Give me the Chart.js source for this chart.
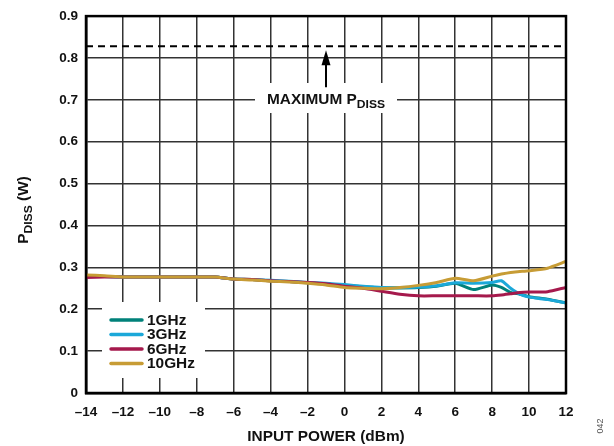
<!DOCTYPE html>
<html>
<head>
<meta charset="utf-8">
<script src="https://cdn.jsdelivr.net/npm/chart.js@4/dist/chart.umd.min.js"></script>
<style>
  html, body { margin: 0; padding: 0; background: #fff; }
  #grafica { display: block; }
</style>
</head>
<body>
<canvas id="grafica" width="614" height="446"></canvas>
<script>
// datos
const power = [-14, -13, -12, -11, -10, -9, -8, -7, -6, -5, -4, -3, -2, -1, 0, 1, 2, 3, 4, 5, 6, 7, 8, 8.5, 9, 9.5, 10, 11, 12];
const p1GHz = [0.279, 0.278, 0.277, 0.277, 0.277, 0.277, 0.277, 0.277, 0.272, 0.271, 0.268, 0.266, 0.263, 0.260, 0.257, 0.254, 0.251, 0.251, 0.252, 0.255, 0.262, 0.247, 0.258, 0.252, 0.240, 0.236, 0.230, 0.224, 0.215];
const p3GHz = [0.279, 0.278, 0.277, 0.277, 0.277, 0.277, 0.277, 0.277, 0.272, 0.271, 0.269, 0.267, 0.264, 0.262, 0.259, 0.255, 0.252, 0.252, 0.253, 0.256, 0.263, 0.262, 0.264, 0.268, 0.250, 0.236, 0.229, 0.223, 0.215];
const p6GHz = [0.276, 0.277, 0.277, 0.277, 0.277, 0.277, 0.277, 0.277, 0.272, 0.271, 0.268, 0.266, 0.264, 0.261, 0.255, 0.250, 0.243, 0.236, 0.232, 0.232, 0.232, 0.232, 0.232, 0.234, 0.237, 0.240, 0.241, 0.242, 0.252];
const p10GHz = [0.282, 0.280, 0.277, 0.277, 0.277, 0.277, 0.277, 0.277, 0.272, 0.270, 0.267, 0.265, 0.262, 0.258, 0.252, 0.250, 0.249, 0.252, 0.257, 0.264, 0.274, 0.268, 0.279, 0.284, 0.288, 0.290, 0.292, 0.298, 0.314];
const seriesNames = ['1GHz', '3GHz', '6GHz', '10GHz'];
const maxPdiss = 0.828;
const arrowPower = -1;
const xTicks = [-14, -12, -10, -8, -6, -4, -2, 0, 2, 4, 6, 8, 10, 12];
const yTicks = [0, 0.1, 0.2, 0.3, 0.4, 0.5, 0.6, 0.7, 0.8, 0.9];

const FUENTE = '"Liberation Sans", Arial, sans-serif';
const colores = ['#00817a', '#1ba8d9', '#a5194c', '#c79c35'];
const ESTIRA = 1.1; // el texto del original es algo mas ancho

const puntos = (ys) => power.map((p, i) => ({ x: p, y: ys[i] }));

// texto con subindice y estirado en horizontal, devuelve el ancho
function textoSub(ctx, partes, x, y, medir) {
  let ancho = 0;
  partes.forEach(([txt, sub]) => {
    ctx.font = sub ? 'bold 11px ' + FUENTE : 'bold 14px ' + FUENTE;
    if (!medir) {
      ctx.save();
      ctx.translate(x + ancho, sub ? y + 4 : y);
      ctx.scale(ESTIRA, 1);
      ctx.fillText(txt, 0, 0);
      ctx.restore();
    }
    ancho += ctx.measureText(txt).width * ESTIRA;
  });
  return ancho;
}

const extras = {
  id: 'extras',
  beforeDatasetsDraw(chart) {
    const { ctx } = chart;
    ctx.save();
    ctx.fillStyle = '#fff';
    // caja de la leyenda
    ctx.fillRect(102, 302, 103, 76);
    // caja de la etiqueta del maximo
    ctx.fillRect(255, 83, 142, 30);
    ctx.restore();
  },
  afterDatasetsDraw(chart) {
    const { ctx, chartArea: a, scales: { x, y } } = chart;
    ctx.save();
    // marco
    ctx.strokeStyle = '#000';
    ctx.lineWidth = 2.5;
    ctx.strokeRect(a.left, a.top, a.right - a.left, a.bottom - a.top);

    // flecha
    const ax = x.getPixelForValue(arrowPower);
    const ay = y.getPixelForValue(maxPdiss);
    ctx.fillStyle = '#000';
    ctx.lineWidth = 2;
    ctx.beginPath();
    ctx.moveTo(ax, ay + 16);
    ctx.lineTo(ax, ay + 41);
    ctx.stroke();
    ctx.beginPath();
    ctx.moveTo(ax, ay + 4);
    ctx.lineTo(ax - 4.5, ay + 19);
    ctx.lineTo(ax + 4.5, ay + 19);
    ctx.closePath();
    ctx.fill();

    // etiqueta MAXIMUM PDISS
    ctx.fillStyle = '#111';
    ctx.textBaseline = 'alphabetic';
    ctx.textAlign = 'left';
    const partes = [['MAXIMUM P', false], ['DISS', true]];
    const w = textoSub(ctx, partes, 0, 0, true);
    textoSub(ctx, partes, ax - w / 2, 104, false);

    // leyenda, en el orden de las series
    seriesNames.forEach((nombre, i) => {
      const ly = 320 + i * 14.5;
      ctx.strokeStyle = colores[i];
      ctx.lineWidth = 3.5;
      ctx.lineCap = 'round';
      ctx.beginPath();
      ctx.moveTo(111, ly);
      ctx.lineTo(142, ly);
      ctx.stroke();
      ctx.fillStyle = '#111';
      ctx.textBaseline = 'middle';
      textoSub(ctx, [[nombre, false]], 147, ly + 1, false);
    });

    // titulo eje x
    ctx.textBaseline = 'middle';
    const tx = [['INPUT POWER (dBm)', false]];
    const wx = textoSub(ctx, tx, 0, 0, true);
    textoSub(ctx, tx, (a.left + a.right) / 2 - wx / 2, 437, false);

    // titulo eje y
    ctx.save();
    ctx.translate(28, 210);
    ctx.rotate(-Math.PI / 2);
    ctx.textBaseline = 'alphabetic';
    const py = [['P', false], ['DISS', true], [' (W)', false]];
    const wy = textoSub(ctx, py, 0, 0, true);
    textoSub(ctx, py, -wy / 2, 0, false);
    ctx.restore();

    // numero de figura
    ctx.save();
    ctx.translate(601, 426);
    ctx.rotate(-Math.PI / 2);
    ctx.fillStyle = '#555';
    ctx.font = '9px ' + FUENTE;
    ctx.textAlign = 'center';
    ctx.textBaseline = 'middle';
    ctx.fillText('042', 0, 0);
    ctx.restore();
    ctx.restore();
  }
};

new Chart(document.getElementById('grafica'), {
  type: 'line',
  data: {
    datasets: [
      ...[p1GHz, p3GHz, p6GHz, p10GHz].map((ys, i) => ({
        label: seriesNames[i],
        data: puntos(ys),
        borderColor: colores[i],
        borderWidth: 3,
        pointRadius: 0,
        tension: 0.2,
        fill: false,
        order: 4 - i // 10GHz encima
      })),
      {
        label: 'MAXIMUM PDISS',
        data: [{ x: power[0], y: maxPdiss }, { x: power[power.length - 1], y: maxPdiss }],
        borderColor: '#000',
        borderWidth: 2,
        borderDash: [7, 5],
        pointRadius: 0,
        fill: false,
        order: 0
      }
    ]
  },
  options: {
    responsive: false,
    animation: false,
    layout: { padding: { top: 12, right: 48, left: 0, bottom: 0 } },
    plugins: { legend: { display: false }, tooltip: { enabled: false } },
    scales: {
      x: {
        type: 'linear',
        min: -14,
        max: 12,
        afterFit: (s) => { s.height = 53; },
        afterBuildTicks: (s) => { s.ticks = xTicks.map((v) => ({ value: v })); },
        grid: { color: '#333', lineWidth: 1.5, drawTicks: false },
        border: { color: '#000', width: 2.5 },
        ticks: {
          padding: 11,
          maxRotation: 0,
          autoSkip: false,
          color: '#111',
          font: { family: FUENTE, size: 13.5, weight: 'bold' },
          callback: (v) => (v < 0 ? '\u2013' + Math.abs(v) : String(v))
        }
      },
      y: {
        min: 0,
        max: 0.9,
        afterFit: (s) => { s.width = 86; },
        afterBuildTicks: (s) => { s.ticks = yTicks.map((v) => ({ value: v })); },
        grid: { color: '#333', lineWidth: 1.5, drawTicks: false },
        border: { color: '#000', width: 2.5 },
        ticks: {
          padding: 8,
          color: '#111',
          font: { family: FUENTE, size: 13.5, weight: 'bold' },
          callback: (v) => (v === 0 ? '0' : v.toFixed(1))
        }
      }
    }
  },
  plugins: [extras]
});
</script>
</body>
</html>
